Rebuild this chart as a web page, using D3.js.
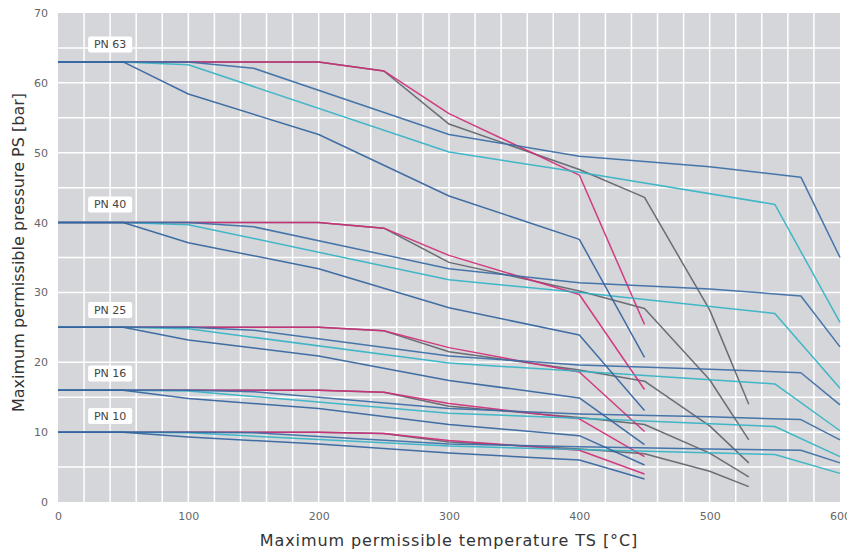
<!DOCTYPE html>
<html>
<head>
<meta charset="utf-8">
<script src="https://cdn.jsdelivr.net/npm/d3@7"></script>
<style>
  body { margin: 0; background: #fff; }
  text { font-family: "DejaVu Sans", sans-serif; }
</style>
</head>
<body>
<svg id="chart"></svg>
<script>
// Pressure levels and label positions (bar)
const pnLevels = ["PN 63", "PN 40", "PN 25", "PN 16", "PN 10"];
const labelY = [65.5, 42.6, 27.5, 18.4, 12.3];
const labelX = 40;

// Temperatures per material curve (°C)
const tempMagenta = [0, 200, 250, 300, 400, 450];
const tempGrey = [0, 200, 250, 300, 400, 450, 500, 530];
const tempBlueA = [0, 100, 150, 300, 400, 500, 570, 600];
const tempCyan = [0, 50, 100, 300, 400, 550, 600];
const tempBlueB = [0, 50, 100, 200, 300, 400, 450];

// Pressures (bar), one row per PN level
const magentaValues = [
  [63, 63, 61.7, 55.6, 46.8, 25.4],
  [40, 40, 39.2, 35.3, 29.7, 16.1],
  [25, 25, 24.5, 22.1, 18.6, 10.1],
  [16, 16, 15.7, 14.1, 11.9, 6.5],
  [10, 10, 9.8, 8.8, 7.4, 4.0]
];
const greyValues = [
  [63, 63, 61.7, 54.1, 47.6, 43.6, 27.5, 14.0],
  [40, 40, 39.2, 34.3, 30.2, 27.7, 17.5, 8.9],
  [25, 25, 24.5, 21.5, 18.9, 17.3, 10.9, 5.6],
  [16, 16, 15.7, 13.7, 12.1, 11.1, 7.0, 3.6],
  [10, 10, 9.8, 8.6, 7.6, 6.9, 4.4, 2.2]
];
const blueAValues = [
  [63, 63, 62.1, 52.6, 49.5, 48.0, 46.5, 35.0],
  [40, 40, 39.4, 33.4, 31.4, 30.5, 29.5, 22.2],
  [25, 25, 24.6, 20.9, 19.6, 19.0, 18.5, 13.9],
  [16, 16, 15.8, 13.4, 12.6, 12.2, 11.8, 8.9],
  [10, 10, 9.9, 8.3, 7.9, 7.6, 7.4, 5.6]
];
const cyanValues = [
  [63, 63, 62.6, 50.1, 47.2, 42.6, 25.7],
  [40, 40, 39.7, 31.8, 30.0, 27.0, 16.3],
  [25, 25, 24.8, 19.9, 18.7, 16.9, 10.2],
  [16, 16, 15.9, 12.7, 12.0, 10.8, 6.5],
  [10, 10, 9.9, 8.0, 7.5, 6.8, 4.1]
];
const blueBValues = [
  [63, 63, 58.4, 52.6, 43.8, 37.6, 20.7],
  [40, 40, 37.1, 33.4, 27.8, 23.9, 13.1],
  [25, 25, 23.2, 20.9, 17.4, 14.9, 8.2],
  [16, 16, 14.8, 13.4, 11.1, 9.5, 5.3],
  [10, 10, 9.3, 8.3, 7.0, 6.0, 3.3]
];

const xTicks = [0, 100, 200, 300, 400, 500, 600];
const yTicks = [0, 10, 20, 30, 40, 50, 60, 70];

// draw order: later on top
const materials = [
  { temps: tempGrey, values: greyValues, color: "#5f646b" },
  { temps: tempMagenta, values: magentaValues, color: "#cf2e7a" },
  { temps: tempCyan, values: cyanValues, color: "#33b3c6" },
  { temps: tempBlueA, values: blueAValues, color: "#3a6ca6" },
  { temps: tempBlueB, values: blueBValues, color: "#33649f" }
];

const W = 847, H = 550;
const margin = { top: 13, right: 7, bottom: 48, left: 58 };
const width = W - margin.left - margin.right;
const height = H - margin.top - margin.bottom;

const svg = d3.select("#chart").attr("width", W).attr("height", H);
const g = svg.append("g").attr("transform", `translate(${margin.left},${margin.top})`);

const x = d3.scaleLinear().domain([0, 600]).range([0, width]);
const y = d3.scaleLinear().domain([0, 70]).range([height, 0]);

// plot background
g.append("rect")
  .attr("width", width).attr("height", height)
  .attr("fill", "#d5d6d9");

// grid
g.append("g").selectAll("line")
  .data(d3.range(20, 600, 20))
  .join("line")
  .attr("x1", d => x(d)).attr("x2", d => x(d))
  .attr("y1", 0).attr("y2", height)
  .attr("stroke", "#fff").attr("stroke-width", 1.5);

g.append("g").selectAll("line")
  .data(d3.range(5, 70, 5))
  .join("line")
  .attr("y1", d => y(d)).attr("y2", d => y(d))
  .attr("x1", 0).attr("x2", width)
  .attr("stroke", "#fff").attr("stroke-width", 1.5);

// axes
const xAxis = g.append("g")
  .attr("transform", `translate(0,${height})`)
  .call(d3.axisBottom(x).tickValues(xTicks).tickSize(0).tickPadding(10));
const yAxis = g.append("g")
  .call(d3.axisLeft(y).tickValues(yTicks).tickSize(0).tickPadding(10));
[xAxis, yAxis].forEach(a => {
  a.select(".domain").remove();
  a.selectAll("text").attr("fill", "#666").attr("font-size", 11)
    .style("font-family", "'DejaVu Sans', sans-serif");
});

// curves
const line = d3.line().x(d => x(d[0])).y(d => y(d[1]));
materials.forEach(m => {
  m.values.forEach(vals => {
    const pts = m.temps.map((t, i) => [t, vals[i]]);
    g.append("path")
      .datum(pts)
      .attr("d", line)
      .attr("fill", "none")
      .attr("stroke", m.color)
      .attr("stroke-width", 1.5)
      .attr("stroke-linejoin", "round")
      .attr("opacity", 0.92);
  });
});

// PN labels
pnLevels.forEach((lbl, i) => {
  const lg = g.append("g").attr("transform", `translate(${x(labelX)},${y(labelY[i])})`);
  lg.append("rect")
    .attr("x", -22).attr("y", -8)
    .attr("width", 44).attr("height", 16)
    .attr("rx", 2)
    .attr("fill", "#fff");
  lg.append("text")
    .attr("text-anchor", "middle")
    .attr("dy", "0.35em")
    .attr("font-size", 11)
    .attr("fill", "#444")
    .text(lbl);
});

// axis titles
svg.append("text")
  .attr("x", margin.left + width / 2)
  .attr("y", 546)
  .attr("text-anchor", "middle")
  .attr("font-size", 16)
  .attr("letter-spacing", 0.9)
  .attr("fill", "#333")
  .text("Maximum permissible temperature TS [°C]");

svg.append("text")
  .attr("transform", `translate(24,${margin.top + height / 2 - 5}) rotate(-90)`)
  .attr("text-anchor", "middle")
  .attr("font-size", 16)
  .attr("fill", "#333")
  .text("Maximum permissible pressure PS [bar]");
</script>
</body>
</html>
